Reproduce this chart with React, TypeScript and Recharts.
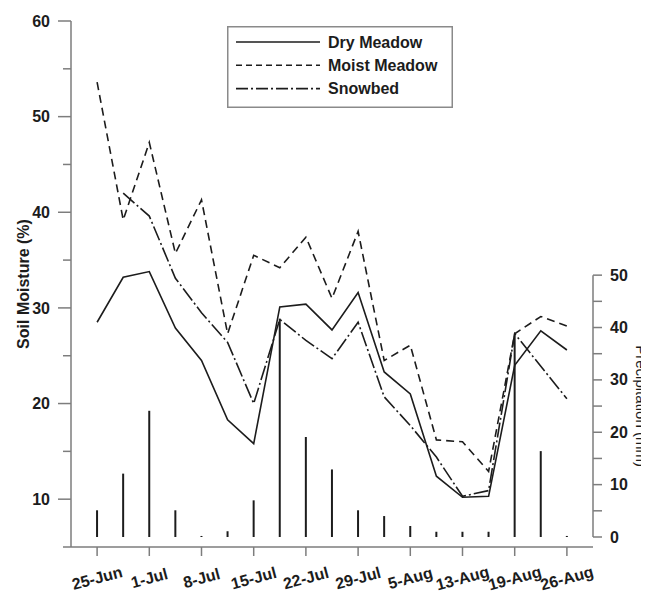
import {
  ComposedChart,
  Line,
  Bar,
  XAxis,
  YAxis,
  Legend,
  ReferenceLine,
  Label,
} from "recharts";

// sampling days, labelled every second one
const tickLabels = ["25-Jun", "1-Jul", "8-Jul", "15-Jul", "22-Jul", "29-Jul", "5-Aug", "13-Aug", "19-Aug", "26-Aug"];
const sampleIndex = [0, 1, 2, 3, 4, 5, 6, 7, 8, 9, 10, 11, 12, 13, 14, 15, 16, 17, 18];

// soil moisture (%)
const dryMeadow = [28.5, 33.2, 33.8, 27.9, 24.5, 18.3, 15.8, 30.1, 30.4, 27.7, 31.6, 23.3, 21.0, 12.4, 10.2, 10.3, 24.0, 27.6, 25.6];
const moistMeadow = [53.6, 39.2, 47.3, 35.7, 41.3, 27.3, 35.5, 34.2, 37.4, 31.0, 38.0, 24.5, 26.1, 16.2, 16.0, 12.9, 27.3, 29.1, 28.1];
const snowbed = [null, 42.0, 39.6, 33.1, 29.5, 26.4, 20.0, 28.8, 26.6, 24.7, 28.5, 20.7, 17.7, 14.4, 10.3, 10.9, 27.3, 23.9, 20.5];

// precipitation (mm)
const precipitation = [5.1, 12.1, 24.1, 5.1, 0.2, 1.1, 7.0, 41.7, 19.1, 12.9, 5.1, 4.0, 2.1, 1.0, 1.0, 1.0, 38.5, 16.4, 0.2];

const leftTicks = [5, 10, 15, 20, 25, 30, 35, 40, 45, 50, 55, 60];
const rightTicks = [0, 5, 10, 15, 20, 25, 30, 35, 40, 45, 50];
const xTicks = [0, 2, 4, 6, 8, 10, 12, 14, 16, 18];

const data = sampleIndex.map((i) => ({
  i,
  dry: dryMeadow[i],
  moist: moistMeadow[i],
  snow: snowbed[i],
  rain: precipitation[i],
}));

const ink = "#1c1c1c";
const axisGray = "#7d7d7d";

const series = [
  { key: "dry", name: "Dry Meadow", dash: undefined, legendDash: undefined },
  { key: "moist", name: "Moist Meadow", dash: "8 5", legendDash: "6 4" },
  { key: "snow", name: "Snowbed", dash: "15 3 2 3", legendDash: "12 3 2 3" },
];

const XTick = (props: any) => {
  const { x, y, payload } = props;
  return (
    <g>
      <line x1={x} y1={y} x2={x} y2={y + 9} stroke={axisGray} strokeWidth={1.5} />
      <text
        transform={`translate(${x},${y + 31}) rotate(-15)`}
        textAnchor="middle"
        dy="0.35em"
        fontSize={16}
        fontWeight="bold"
        fill={ink}
      >
        {tickLabels[payload.value / 2]}
      </text>
    </g>
  );
};

const LeftTick = (props: any) => {
  const { x, y, payload } = props;
  const major = payload.value % 10 === 0;
  return (
    <g>
      <line x1={x - (major ? 13 : 8)} y1={y} x2={x} y2={y} stroke={axisGray} strokeWidth={1.5} />
      {major && (
        <text x={x - 21} y={y} dy="0.35em" textAnchor="end" fontSize={16} fontWeight="bold" fill={ink}>
          {payload.value}
        </text>
      )}
    </g>
  );
};

const RightTick = (props: any) => {
  const { x, y, payload } = props;
  const major = payload.value % 10 === 0;
  return (
    <g>
      <line x1={x} y1={y} x2={x + 9} y2={y} stroke={axisGray} strokeWidth={1.5} />
      {major && (
        <text x={x + 17} y={y} dy="0.35em" textAnchor="start" fontSize={16} fontWeight="bold" fill={ink}>
          {payload.value}
        </text>
      )}
    </g>
  );
};

const LegendBox = () => (
  <svg width={226} height={82}>
    <rect x={0.75} y={0.75} width={224.5} height={80.5} fill="#fff" stroke="#8a8a8a" strokeWidth={1.5} />
    {series.map((s, k) => {
      const cy = 16 + k * 23.3;
      return (
        <g key={s.key}>
          <line x1={9} x2={93} y1={cy} y2={cy} stroke={ink} strokeWidth={1.6} strokeDasharray={s.legendDash} />
          <text x={101} y={cy} dy="0.35em" fontSize={16} fontWeight="bold" fill={ink}>
            {s.name}
          </text>
        </g>
      );
    })}
  </svg>
);

export default function App() {
  return (
    <div style={{ fontFamily: "'Liberation Sans', Arial, sans-serif" }}>
      <ComposedChart width={641} height={585} data={data} margin={{ top: 13, right: 0, bottom: 0, left: 0 }}>
        <XAxis
          dataKey="i"
          type="number"
          domain={[-1, 19]}
          ticks={xTicks}
          allowDataOverflow
          height={46}
          tickSize={0}
          tickMargin={0}
          tickLine={false}
          axisLine={{ stroke: axisGray, strokeWidth: 1.5 }}
          tick={<XTick />}
          interval={0}
        />
        <YAxis
          yAxisId="left"
          domain={[5, 60]}
          ticks={leftTicks}
          allowDataOverflow
          width={63}
          tickSize={0}
          tickMargin={0}
          tickLine={false}
          axisLine={{ stroke: axisGray, strokeWidth: 1.5 }}
          tick={<LeftTick />}
          interval={0}
        >
          <Label
            content={(p: any) => {
              const vb = p.viewBox;
              const cx = vb.x + 15.5;
              const cy = vb.y + vb.height / 2;
              return (
                <text
                  transform={`translate(${cx},${cy}) rotate(-90)`}
                  textAnchor="middle"
                  dy="0.35em"
                  fontSize={16}
                  fontWeight="bold"
                  fill={ink}
                >
                  Soil Moisture (%)
                </text>
              );
            }}
          />
        </YAxis>
        <YAxis
          yAxisId="right"
          orientation="right"
          domain={[-1.91, 98.53]}
          ticks={rightTicks}
          allowDataOverflow
          width={56}
          tickSize={0}
          tickMargin={0}
          tickLine={false}
          axisLine={false}
          tick={<RightTick />}
          interval={0}
        />
        <Legend
          layout="horizontal"
          verticalAlign="middle"
          align="center"
          content={() => <LegendBox />}
          wrapperStyle={{ left: 219, top: 17.7, width: 226, height: 82 }}
        />
        <ReferenceLine
          yAxisId="right"
          segment={[
            { x: 19, y: 0 },
            { x: 19, y: 50 },
          ]}
          stroke={axisGray}
          strokeWidth={1.5}
          ifOverflow="visible"
        >
          <Label
            content={(p: any) => {
              const vb = p.viewBox || { x: 585, y: 275, width: 0, height: 262 };
              const cx = vb.x + 48;
              const cy = vb.y + (vb.height || 0) / 2;
              return (
                <text
                  transform={`translate(${cx},${cy}) rotate(90)`}
                  textAnchor="middle"
                  dy="0.35em"
                  fontSize={15}
                  fill={ink}
                >
                  Precipitation (mm)
                </text>
              );
            }}
          />
        </ReferenceLine>
        <Bar yAxisId="right" dataKey="rain" barSize={2} fill={ink} isAnimationActive={false} />
        {series.map((s) => (
          <Line
            key={s.key}
            yAxisId="left"
            type="linear"
            dataKey={s.key}
            name={s.name}
            stroke={ink}
            strokeWidth={1.6}
            strokeDasharray={s.dash}
            dot={false}
            activeDot={false}
            isAnimationActive={false}
          />
        ))}
      </ComposedChart>
    </div>
  );
}
